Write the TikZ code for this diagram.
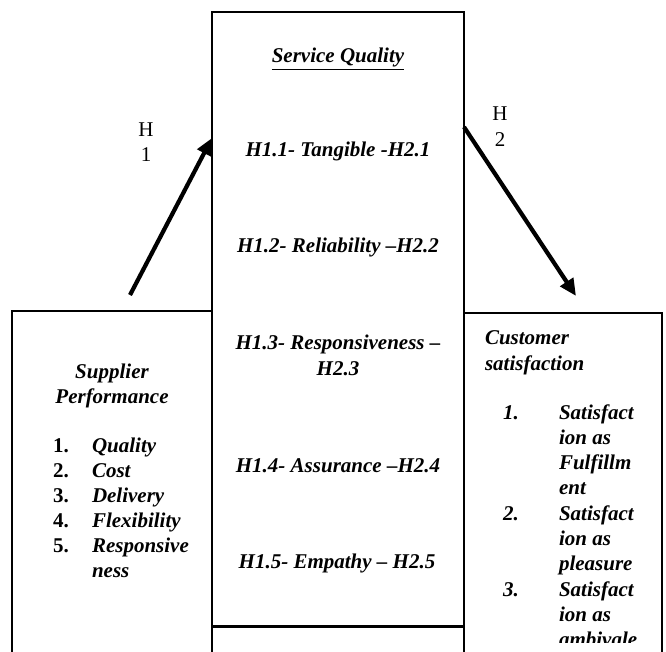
\documentclass[tikz,border=0pt]{standalone}
\usepackage{fontspec}
\setmainfont{Liberation Serif}
\usetikzlibrary{arrows.meta}
\begin{document}
\begin{tikzpicture}[x=1pt,y=-1pt,
  every node/.style={inner sep=0pt,outer sep=0pt,font=\fontsize{21}{25.3}\selectfont},
  box/.style={draw=black,line width=2pt,fill=white,anchor=north west},
  bi/.style={font=\fontsize{21}{25.3}\selectfont\bfseries\itshape},
  num/.style={font=\fontsize{21}{25.3}\selectfont\bfseries},
  lbl/.style={font=\fontsize{21}{25.3}\selectfont},
  link/.style={line width=4.2pt,-{Triangle[length=17pt,width=15pt]}}]
\useasboundingbox (0,0) rectangle (666,652);
\clip (0,0) rectangle (666,652);
% boxes
\node[box,minimum width=200pt,minimum height=360pt] (sp) at (12,311) {};
\node[box,minimum width=198pt,minimum height=360pt] (cs) at (464,313) {};
\node[box,minimum width=252pt,minimum height=60pt,line width=1.5pt] (low) at (212,627.5) {};
\node[box,minimum width=252pt,minimum height=614pt,line width=2.4pt] (sq) at (212,12) {};
% centre texts
\node[bi,anchor=base] (t0) at (338,63) {\underline{Service Quality}};
\node[bi,anchor=base] (t1) at (338,157) {H1.1- Tangible -H2.1};
\node[bi,anchor=base] (t2) at (338,253) {H1.2- Reliability –H2.2};
\node[bi,anchor=base] (t3a) at (338,349) {H1.3- Responsiveness –};
\node[bi,anchor=base] (t3b) at (338,375) {H2.3};
\node[bi,anchor=base] (t4) at (338,472) {H1.4- Assurance –H2.4};
\node[bi,anchor=base] (t5) at (337,568) {H1.5- Empathy – H2.5};
% supplier performance
\node[bi,anchor=base] (sp1) at (112,378) {Supplier};
\node[bi,anchor=base] (sp2) at (112,403) {Performance};
\foreach \n/\t/\y in {1/Quality/452,2/Cost/477,3/Delivery/502,4/Flexibility/527,5/Responsive/552}{
  \node[num,anchor=base west] (spn\n) at (53,\y) {\n.};
  \node[bi,anchor=base west] (spi\n) at (92,\y) {\t};
}
\node[bi,anchor=base west] (spi6) at (92,577) {ness};
% customer satisfaction
\node[bi,anchor=base west] (cs1) at (485,344) {Customer};
\node[bi,anchor=base west] (cs2) at (485,370) {satisfaction};
\begin{scope}
\clip (464,313) rectangle (662,642);
\node[bi,anchor=base west] (csn1) at (503,419) {1.};
\node[bi,anchor=base west] (csn2) at (503,520) {2.};
\node[bi,anchor=base west] (csn3) at (503,596) {3.};
\foreach \t [count=\i from 0] in {Satisfact,ion as,Fulfillm,ent,Satisfact,ion as,pleasure,Satisfact,ion as,ambivale}{
  \node[bi,anchor=base west] (csl\i) at (559,{419+25.3*\i}) {\t};
}
\end{scope}
% hypothesis labels
\node[lbl,anchor=base] (h1a) at (146,137) {H};
\node[lbl,anchor=base] (h1b) at (146,162) {1};
\node[lbl,anchor=base] (h2a) at (500,121) {H};
\node[lbl,anchor=base] (h2b) at (500,147) {2};
% arrows
\coordinate (a1s) at (130,295);
\coordinate (a1e) at (212,138);
\coordinate (a2s) at (464,127);
\coordinate (a2e) at (576,296);
\draw[link] (a1s) -- (a1e);
\draw[link] (a2s) -- (a2e);
\end{tikzpicture}
\end{document}
